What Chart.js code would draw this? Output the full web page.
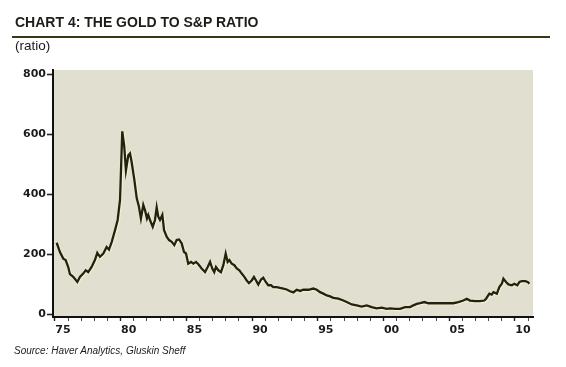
<!DOCTYPE html>
<html>
<head>
<meta charset="utf-8">
<script src="https://cdn.jsdelivr.net/npm/chart.js@4/dist/chart.umd.min.js"></script>
<style>
  html, body { margin: 0; padding: 0; background: #ffffff; }
  #wrap { position: relative; width: 566px; height: 367px; overflow: hidden; }
  #c { position: absolute; left: 0; top: 0; }
  .t { position: absolute; white-space: nowrap; color: #1b1b1b; }
  #title { left: 15px; top: 15px; font: bold 14px/14px "Liberation Sans", Arial, sans-serif; color: #1d1d18; }
  #rule { position: absolute; left: 12px; top: 36px; width: 538px; height: 2px; background: #3a3812; }
  #unit { left: 15px; top: 39px; font: 13.5px/13.5px "Liberation Sans", Arial, sans-serif; }
  #source { left: 14px; top: 346px; font: italic 10px/10px "Liberation Sans", Arial, sans-serif; }
</style>
</head>
<body>
<div id="wrap">
  <canvas id="c" width="566" height="367"></canvas>
  <div class="t" id="title">CHART 4: THE GOLD TO S&amp;P RATIO</div>
  <div id="rule"></div>
  <div class="t" id="unit">(ratio)</div>
  <div class="t" id="source">Source: Haver Analytics, Gluskin Sheff</div>
</div>
<script>
// ---- data ----
const years = [
  1975.13, 1975.38, 1975.63, 1975.81, 1976.01, 1976.14, 1976.39, 1976.70, 1976.90, 1977.15,
  1977.34, 1977.53, 1977.79, 1978.04, 1978.22, 1978.42, 1978.68, 1978.93, 1979.11, 1979.32,
  1979.57, 1979.77, 1979.95, 1980.12, 1980.27, 1980.40, 1980.58, 1980.71, 1980.84, 1981.04,
  1981.22, 1981.39, 1981.54, 1981.72, 1981.85, 1982.00, 1982.10, 1982.23, 1982.44, 1982.61,
  1982.74, 1982.86, 1982.99, 1983.17, 1983.30, 1983.50, 1983.68, 1983.88, 1984.08, 1984.26,
  1984.44, 1984.64, 1984.82, 1984.97, 1985.14, 1985.35, 1985.53, 1985.73, 1985.91, 1986.16,
  1986.42, 1986.62, 1986.80, 1986.97, 1987.12, 1987.25, 1987.43, 1987.63, 1987.81, 1987.99,
  1988.14, 1988.27, 1988.45, 1988.65, 1988.83, 1989.03, 1989.21, 1989.41, 1989.59, 1989.76,
  1989.97, 1990.14, 1990.30, 1990.47, 1990.68, 1990.85, 1991.04, 1991.23, 1991.44, 1991.61,
  1991.87, 1992.12, 1992.37, 1992.63, 1992.88, 1993.14, 1993.39, 1993.65, 1993.90, 1994.28,
  1994.66, 1994.92, 1995.17, 1995.42, 1995.68, 1995.93, 1996.18, 1996.56, 1996.94, 1997.20,
  1997.58, 1997.96, 1998.34, 1998.72, 1999.10, 1999.48, 1999.86, 2000.24, 2000.50, 2000.88,
  2001.26, 2001.64, 2002.02, 2002.27, 2002.53, 2002.78, 2003.11, 2003.41, 2003.79, 2004.17,
  2004.55, 2004.93, 2005.31, 2005.69, 2006.07, 2006.33, 2006.58, 2006.96, 2007.34, 2007.67,
  2007.80, 2008.05, 2008.23, 2008.36, 2008.62, 2008.81, 2009.00, 2009.12, 2009.32, 2009.50,
  2009.76, 2009.95, 2010.18, 2010.34, 2010.52, 2010.77, 2010.97, 2011.10
];
const ratio = [
  238, 207, 185, 180, 157, 133, 124, 107, 124, 135,
  146, 140, 157, 180, 204, 191, 202, 224, 215, 241,
  280, 314, 381, 610, 560, 480, 530, 536, 506, 448,
  387, 358, 319, 364, 347, 319, 331, 314, 291, 314,
  356, 325, 314, 331, 280, 258, 247, 241, 230, 247,
  249, 236, 207, 202, 168, 174, 168, 174, 166, 152,
  140, 157, 174, 152, 140, 157, 146, 140, 163, 202,
  174, 180, 168, 163, 152, 146, 135, 124, 112, 103,
  112, 124, 112, 98, 115, 121, 107, 96, 96, 90,
  90, 87, 85, 82, 76, 72, 81, 77, 81, 81,
  85, 81, 73, 68, 62, 59, 54, 51, 45, 40,
  32, 29, 25, 29, 23, 19, 21, 17, 19, 17,
  17, 23, 23, 29, 34, 36, 40, 36, 36, 36,
  36, 36, 36, 40, 45, 51, 45, 43, 43, 45,
  51, 68, 65, 73, 68, 90, 101, 118, 107, 99,
  96, 101, 96, 107, 110, 110, 107, 101
];
const yTickValues = [0, 200, 400, 600, 800];
const xTickYears = [1975, 1976, 1977, 1978, 1979, 1980, 1981, 1982, 1983, 1984, 1985, 1986,
  1987, 1988, 1989, 1990, 1991, 1992, 1993, 1994, 1995, 1996, 1997, 1998, 1999, 2000, 2001,
  2002, 2003, 2004, 2005, 2006, 2007, 2008, 2009, 2010, 2011];
const xLabelYears = [1975, 1980, 1985, 1990, 1995, 2000, 2005, 2010];
const xLabels = ['75', '80', '85', '90', '95', '00', '05', '10'];

// ---- chart ----
const plotBg = {
  id: 'plotBg',
  beforeDraw(chart) {
    const a = chart.chartArea, ctx = chart.ctx;
    ctx.save();
    ctx.fillStyle = '#e0dfd0';
    ctx.fillRect(a.left, a.top, a.right - a.left, a.bottom - a.top);
    ctx.restore();
  },
  beforeDatasetsDraw(chart) {
    const ctx = chart.ctx;
    ctx.save();
    ctx.shadowColor = 'rgba(255,255,215,0.95)';
    ctx.shadowBlur = 2;
    ctx.shadowOffsetX = 0.6;
    ctx.shadowOffsetY = 0.6;
  },
  afterDatasetsDraw(chart) {
    chart.ctx.restore();
  }
};

const tickFont = { family: '"DejaVu Sans", "Liberation Sans", sans-serif', size: 11, weight: 'bold' };

new Chart(document.getElementById('c'), {
  type: 'line',
  data: {
    datasets: [{
      data: years.map((y, i) => ({ x: y, y: ratio[i] })),
      borderColor: '#22220f',
      borderWidth: 2.3,
      pointRadius: 0,
      tension: 0,
      fill: false
    }]
  },
  options: {
    responsive: false,
    animation: false,
    events: [],
    layout: { padding: { left: 0, top: 70, right: 33, bottom: 0 } },
    plugins: { legend: { display: false }, tooltip: { enabled: false }, title: { display: false } },
    scales: {
      x: {
        type: 'linear',
        min: 1974.85,
        max: 2011.37,
        afterBuildTicks: s => { s.ticks = xTickYears.map(v => ({ value: v })); },
        afterFit: s => { s.height = 50; },
        border: { display: true, color: '#111', width: 2 },
        grid: {
          drawOnChartArea: false,
          drawTicks: true,
          tickLength: 4,
          tickColor: '#222',
          tickWidth: c => (c.tick && xLabelYears.includes(c.tick.value)) ? 1.4 : 0.8
        },
        ticks: {
          autoSkip: false,
          maxRotation: 0,
          minRotation: 0,
          labelOffset: 8,
          padding: 3,
          color: '#1b1b1b',
          font: tickFont,
          callback: v => { const k = xLabelYears.indexOf(v); return k >= 0 ? xLabels[k] : ''; }
        }
      },
      y: {
        min: -10,
        max: 815,
        afterBuildTicks: s => { s.ticks = yTickValues.map(v => ({ value: v })); },
        afterFit: s => { s.width = 53; },
        border: { display: true, color: '#111', width: 2 },
        grid: {
          drawOnChartArea: false,
          drawTicks: true,
          tickLength: 6,
          tickColor: '#222',
          tickWidth: 1.6
        },
        ticks: {
          padding: 1,
          color: '#1b1b1b',
          font: tickFont
        }
      }
    }
  },
  plugins: [plotBg]
});
</script>
</body>
</html>
